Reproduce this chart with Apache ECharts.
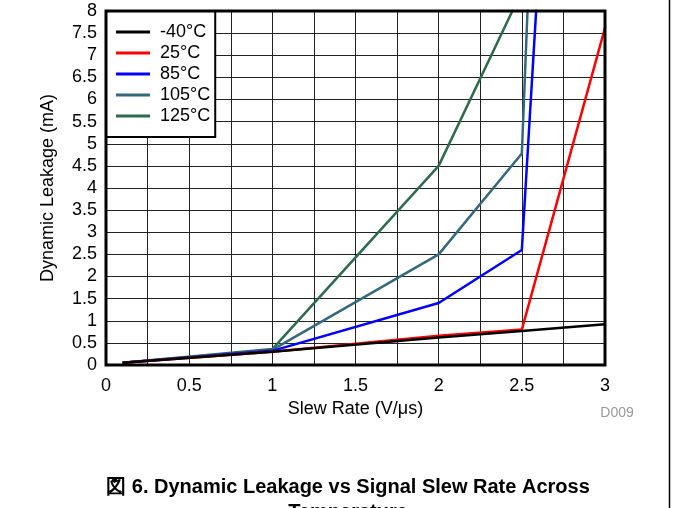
<!DOCTYPE html>
<html><head><meta charset="utf-8">
<script src="https://cdn.jsdelivr.net/npm/echarts@6/dist/echarts.min.js"></script>
<style>html,body{margin:0;padding:0;background:#fff}#c{width:673px;height:508px}</style>
</head><body><div id="c"></div>
<script>
var seriesNames = ['-40°C', '25°C', '85°C', '105°C', '125°C'];
var colors = ['#000000', '#ff0000', '#0000ff', '#33687e', '#2e6a4d'];
var dM40 = [[0.1, 0.05], [1, 0.3], [2, 0.62], [2.5, 0.77], [3, 0.92]];
var d25 = [[0.1, 0.05], [1, 0.3], [2, 0.66], [2.5, 0.8], [3, 7.62]];
var d85 = [[0.1, 0.05], [1, 0.32], [2, 1.4], [2.5, 2.6], [3, 34]];
var d105 = [[0.1, 0.05], [1, 0.34], [2, 2.5], [2.5, 4.78], [3, 52]];
var d125 = [[0.1, 0.05], [1, 0.36], [2, 4.5], [2.5, 8.45], [3, 40]];
var allData = [dM40, d25, d85, d105, d125];
var font = 'Liberation Sans, Arial, sans-serif';

var chart = echarts.init(document.getElementById('c'));
chart.setOption({
  animation: false,
  textStyle: {fontFamily: font},
  grid: {left: 106, right: 68, top: 11, bottom: 143, show: true, borderColor: '#000', borderWidth: 3, z: 10},
  xAxis: {
    type: 'value', min: 0, max: 3, interval: 0.5,
    name: 'Slew Rate (V/μs)', nameLocation: 'middle', nameGap: 33,
    nameTextStyle: {fontSize: 18, color: '#000', fontFamily: font},
    axisLine: {show: false}, axisTick: {show: false},
    axisLabel: {fontSize: 18, color: '#000', margin: 12, fontFamily: font},
    splitLine: {show: true, lineStyle: {color: '#222', width: 1}},
    minorTick: {show: false, splitNumber: 2},
    minorSplitLine: {show: true, lineStyle: {color: '#222', width: 1}}
  },
  yAxis: {
    type: 'value', min: 0, max: 8, interval: 0.5,
    name: 'Dynamic Leakage (mA)', nameLocation: 'middle', nameGap: 49,
    nameTextStyle: {fontSize: 18, color: '#000', fontFamily: font},
    axisLine: {show: false}, axisTick: {show: false},
    axisLabel: {fontSize: 18, color: '#000', margin: 9, fontFamily: font},
    splitLine: {show: true, lineStyle: {color: '#222', width: 1}}
  },
  legend: {
    orient: 'vertical', left: 106, top: 11,
    backgroundColor: '#fff', borderColor: '#000', borderWidth: 2,
    padding: [12, 5, 12, 10], itemGap: 3,
    icon: 'rect', itemWidth: 34, itemHeight: 3,
    textStyle: {fontSize: 18, color: '#000', lineHeight: 18, padding: [0, 0, 0, 5], fontFamily: font},
    data: seriesNames
  },
  series: seriesNames.map(function (n, i) {
    return {
      name: n, type: 'line', data: allData[i], symbol: 'none', clip: true,
      lineStyle: {color: colors[i], width: 2.5}, itemStyle: {color: colors[i]}, z: 5 - i + 2
    };
  }),
  graphic: [
    {type: 'text', x: 617, y: 413, style: {text: 'D009', fontSize: 14, fill: '#999', align: 'center', verticalAlign: 'middle', fontFamily: font}},
    {type: 'text', x: 348, y: 487, style: {text: '図 6. Dynamic Leakage vs Signal Slew Rate Across', fontSize: 20, fontWeight: 'bold', fill: '#000', align: 'center', verticalAlign: 'middle', fontFamily: font}},
    {type: 'text', x: 348, y: 512, style: {text: 'Temperature', fontSize: 20, fontWeight: 'bold', fill: '#000', align: 'center', verticalAlign: 'middle', fontFamily: font}},
    {type: 'line', shape: {x1: 669.5, y1: 0, x2: 669.5, y2: 508}, style: {stroke: '#000', lineWidth: 1.5}}
  ]
});
</script></body></html>
